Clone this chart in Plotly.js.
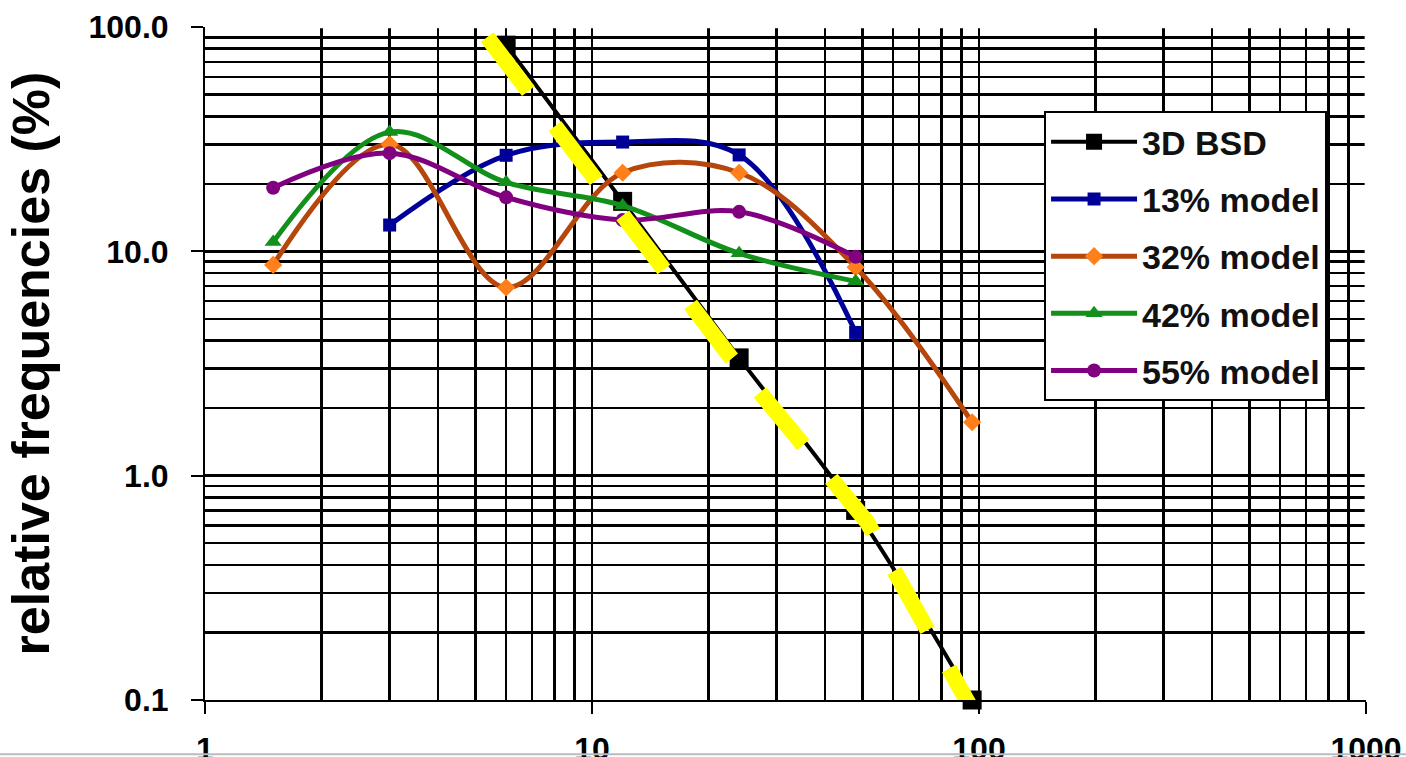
<!DOCTYPE html>
<html>
<head>
<meta charset="utf-8">
<script src="https://cdn.plot.ly/plotly-3.0.1.min.js"></script>
<style>
html,body{margin:0;padding:0;background:#fff;}
#chart{width:1406px;height:757px;}
</style>
</head>
<body>
<div id="chart"></div>
<script>
// ---- data ----
var seriesNames = ["3D BSD", "13% model", "32% model", "42% model", "55% model"];
var bsdX = [6, 12, 24, 48, 96];
var bsdY = [83, 16.7, 3.35, 0.70, 0.10];
var m13X = [3, 6, 12, 24, 48];
var m13Y = [13.1, 26.8, 30.7, 26.9, 4.35];
var m32X = [1.5, 3, 6, 12, 24, 48, 96];
var m32Y = [8.7, 30.0, 6.9, 22.4, 22.4, 8.5, 1.73];
var m42X = [1.5, 3, 6, 12, 24, 48];
var m42Y = [11.0, 34.0, 20.3, 16.0, 9.8, 7.35];
var m55X = [1.5, 3, 6, 12, 24, 48];
var m55Y = [19.2, 27.4, 17.4, 13.8, 15.0, 9.45];
// yellow dashed overlay drawn over the 3D BSD curve
var trendX = [5.36, 22.8, 51.4, 95.4];
var trendY = [90.2, 3.38, 0.621, 0.092];
var xTickVals = [1, 10, 100, 1000];
var xTickText = ["1", "10", "100", "1000"];
var yTickVals = [0.1, 1, 10, 100];
var yTickText = ["0.1", "1.0", "10.0", "100.0"];
var yAxisTitle = "relative frequencies (%)";

var FONT = "Liberation Sans, Arial, sans-serif";

function series(name, xs, ys, lineColor, markerColor, symbol, msize, lw) {
  return {
    type: "scatter", mode: "lines+markers", name: name, x: xs, y: ys,
    legendgroup: name,
    line: {color: lineColor, width: lw, shape: "spline", smoothing: 1},
    marker: {color: markerColor, symbol: symbol, size: msize, line: {width: 0}},
    cliponaxis: false
  };
}

var traces = [
  series(seriesNames[0], bsdX, bsdY, "#000000", "#000000", "square", 19, 4),
  series(seriesNames[1], m13X, m13Y, "#000099", "#000099", "square", 13, 5),
  series(seriesNames[2], m32X, m32Y, "#B5460C", "#FF7F1A", "diamond", 14, 5),
  series(seriesNames[3], m42X, m42Y, "#12901A", "#12901A", "triangle-up", 15, 5),
  series(seriesNames[4], m55X, m55Y, "#800080", "#800080", "circle", 14, 5),
  {
    type: "scatter", mode: "lines", x: trendX, y: trendY, showlegend: false,
    hoverinfo: "skip",
    line: {color: "#FFFF00", width: 16, dash: "68px,44px"}
  }
];

var layout = {
  width: 1406, height: 757,
  margin: {l: 205, r: 40, t: 27, b: 57},
  paper_bgcolor: "#ffffff", plot_bgcolor: "#ffffff",
  font: {family: FONT, color: "#000000", size: 32, weight: "bold"},
  showlegend: true,
  legend: {
    x: 0.7227, y: 0.875, xanchor: "left", yanchor: "top",
    bgcolor: "#ffffff", bordercolor: "#000000", borderwidth: 2,
    font: {family: FONT, size: 34, color: "#111111", weight: "bold"},
    itemwidth: 86, traceorder: "grouped", tracegroupgap: 10
  },
  xaxis: {
    type: "log", range: [0, 3],
    tickmode: "array", tickvals: xTickVals, ticktext: xTickText,
    ticks: "outside", ticklen: 12, tickwidth: 2, tickcolor: "#000",
    showline: true, linecolor: "#000", linewidth: 2,
    showgrid: true, gridcolor: "#000", gridwidth: 2.5,
    minor: {dtick: "D1", showgrid: true, gridcolor: "#000", gridwidth: 2.5, ticks: ""},
    zeroline: false, ticklabelstandoff: 8,
    tickfont: {family: FONT, size: 32, weight: "bold"}
  },
  yaxis: {
    type: "log", range: [-1, 2],
    tickmode: "array", tickvals: yTickVals, ticktext: yTickText,
    ticks: "outside", ticklen: 12, tickwidth: 2, tickcolor: "#000",
    showline: true, linecolor: "#000", linewidth: 2,
    showgrid: true, gridcolor: "#000", gridwidth: 2.5,
    minor: {dtick: "D1", showgrid: true, gridcolor: "#000", gridwidth: 2.5, ticks: ""},
    zeroline: false, ticklabelstandoff: 16,
    tickfont: {family: FONT, size: 32, weight: "bold"},
    title: {text: yAxisTitle, standoff: 22, font: {family: FONT, size: 52, weight: "bold"}}
  },
  shapes: [
    // hide grid lines at the top and right range edges (reference has no border there)
    {type: "line", layer: "above", xref: "paper", yref: "paper", x0: 0.003, x1: 1.03, y0: 1.002, y1: 1.002,
     line: {color: "#ffffff", width: 5}},
    {type: "line", layer: "above", xref: "paper", yref: "paper", x0: 1.001, x1: 1.001, y0: 0.004, y1: 1.01,
     line: {color: "#ffffff", width: 5}},
    // faint frame edge at the bottom of the picture
    {type: "line", layer: "above", xref: "paper", yref: "paper", x0: -0.1766, x1: 1.0345, y0: -0.0805, y1: -0.0805,
     line: {color: "#bbbbbb", width: 2}}
  ]
};

Plotly.newPlot("chart", traces, layout, {staticPlot: true});
</script>
</body>
</html>
